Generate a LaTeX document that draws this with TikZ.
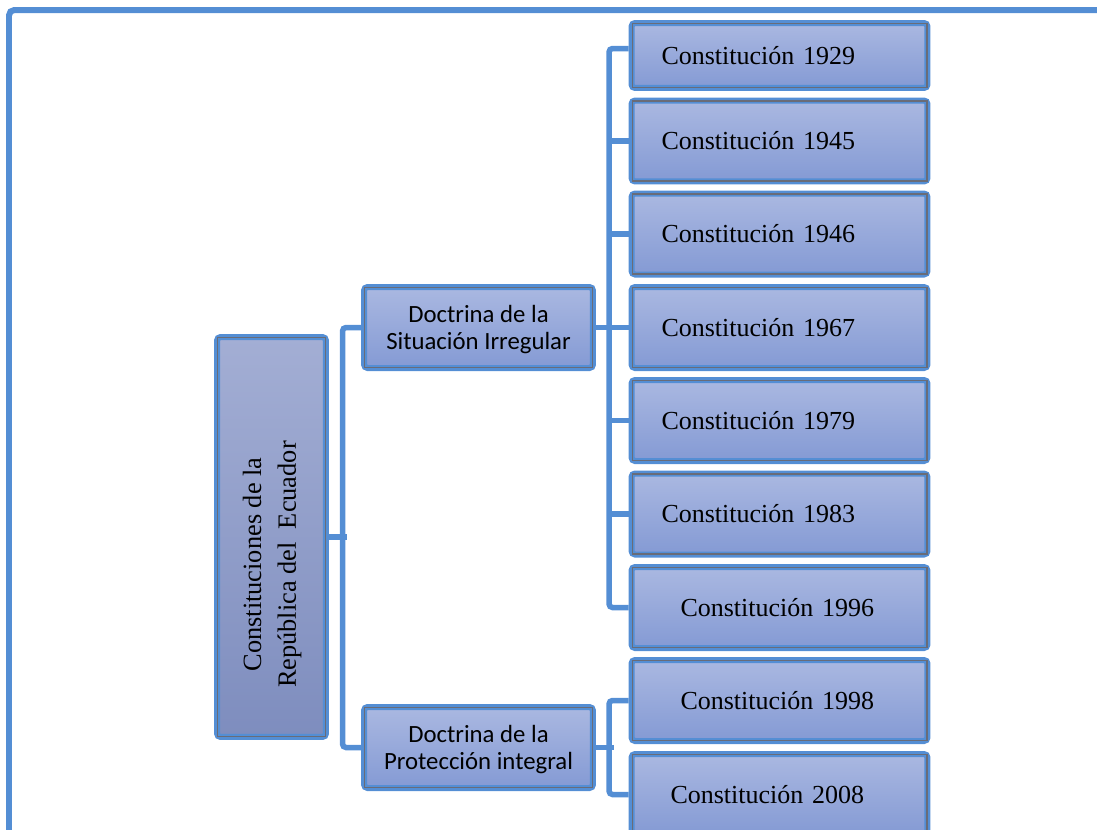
\documentclass[tikz,border=0pt]{standalone}
\usepackage{fontspec}
\setmainfont{Liberation Serif}
\newfontfamily\doctfont{Carlito}
\usepackage{tikz}
\usetikzlibrary{calc}
\definecolor{edgeblue}{RGB}{84,142,212}
\definecolor{filltop}{RGB}{170,184,225}
\definecolor{fillbot}{RGB}{132,154,212}
\definecolor{roottop}{RGB}{163,174,212}
\definecolor{rootbot}{RGB}{126,141,190}
\definecolor{innergrey}{RGB}{105,108,120}
\tikzstyle{link} = [edgeblue,line width=0.11cm,rounded corners=2pt]
\tikzstyle{frame} = [edgeblue,line width=0.12cm,rounded corners=3pt]

\begin{document}
\begin{tikzpicture}[x=0.02cm,y=-0.02cm,
constnode/.style={rectangle, draw=edgeblue, line width=0.12cm, rounded corners=2pt, top color=filltop, bottom color=fillbot, minimum height=1.62cm, text width=4.72cm, inner xsep=0.6cm, align=left, font=\fontsize{14.8}{18}\selectfont},
doctnode/.style={rectangle, draw=edgeblue, line width=0.12cm, rounded corners=2pt, top color=filltop, bottom color=fillbot, minimum width=4.58cm, minimum height=1.62cm, align=center, text depth=0pt, font=\doctfont\fontsize{14.1}{15.3}\selectfont},
rootnode/.style={rectangle, draw=edgeblue, line width=0.12cm, rounded corners=2pt, top color=roottop, bottom color=rootbot, minimum width=2.18cm, minimum height=8cm, font=\fontsize{15}{19.8}\selectfont},
innerline/.style={draw=innergrey, line width=0.6pt}]
\useasboundingbox (0,0) rectangle (1097,829);

%Frame
\draw[frame] (9,835) -- (9,10) -- (1105,10);

%Nodes
\node[rootnode]  (root)  at (271.5,537) {\rotatebox{90}{\begin{tabular}{@{}c@{}}Constituciones de la\\ República del \ Ecuador\end{tabular}\hspace*{1.1cm}}};
\node[doctnode]  (doct1) at (478.5,327.5) {Doctrina de la\\Situación Irregular};
\node[doctnode]  (doct2) at (478.5,747.5) {Doctrina de la\\Protección integral};
\node[constnode, minimum height=1.3cm] (c1929) at (779.5,55.5) {Constitución 1929};
\node[constnode] (c1945) at (779.5,141)   {Constitución 1945};
\node[constnode] (c1946) at (779.5,234)   {Constitución 1946};
\node[constnode] (c1967) at (779.5,327.5) {Constitución 1967};
\node[constnode] (c1979) at (779.5,420.5) {Constitución 1979};
\node[constnode] (c1983) at (779.5,514)   {Constitución 1983};
\node[constnode] (c1996) at (779.5,607.5) {\hspace*{0.38cm}Constitución 1996};
\node[constnode] (c1998) at (779.5,700.5) {\hspace*{0.38cm}Constitución 1998};
\node[constnode] (c2008) at (779.5,794.5) {\hspace*{0.18cm}Constitución 2008};

%Inner borders
\foreach \n in {root,doct1,doct2,c1929,c1945,c1946,c1967,c1979,c1983,c1996,c1998,c2008}
  \draw[innerline] ($(\n.north west)+(0.07cm,-0.07cm)$) rectangle ($(\n.south east)+(-0.07cm,0.07cm)$);

%Lines
\draw[link] (root.east) -- ++(0.37cm,0);
\draw[link] (doct1.west) -- ++(-0.37cm,0) |- (doct2.west);
\draw[link] (doct1.east) -- ++(0.37cm,0);
\draw[link] ([yshift=0.14cm]c1929.west) -- ++(-0.39cm,0) |- (c1996.west);
\foreach \c in {c1945,c1946,c1967,c1979,c1983}
  \draw[link] (\c.west) -- ++(-0.39cm,0);
\draw[link] (doct2.east) -- ++(0.37cm,0);
\draw[link] (c1998.west) -- ++(-0.39cm,0) |- (c2008.west);
\end{tikzpicture}
\end{document}
